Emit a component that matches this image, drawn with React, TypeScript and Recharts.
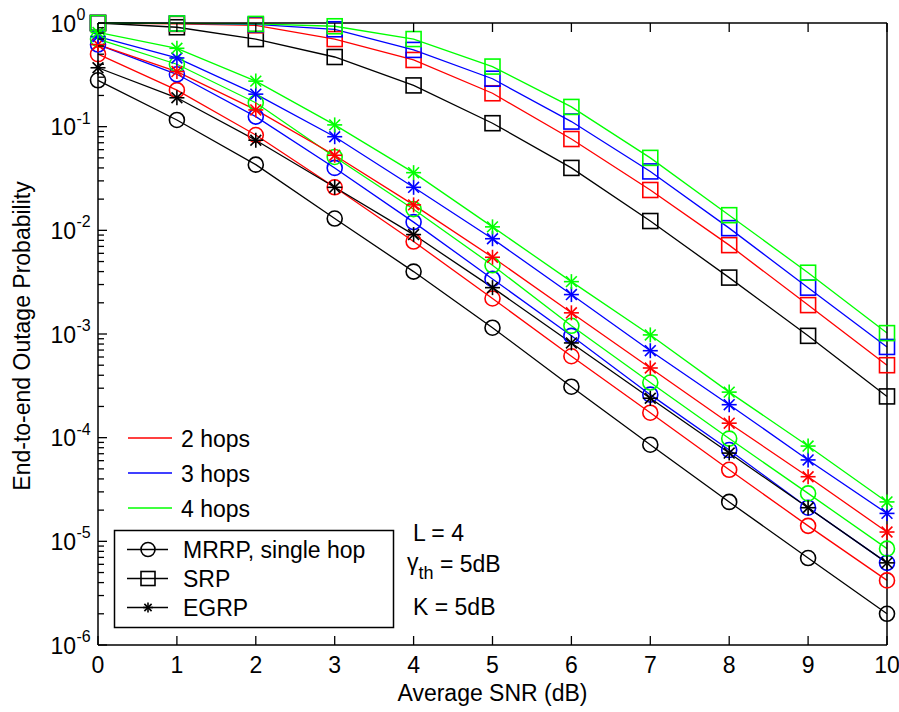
import React from 'react';
import { LineChart, Line, XAxis, YAxis } from 'recharts';

// ---------- data ----------
const snrDb = [0, 1, 2, 3, 4, 5, 6, 7, 8, 9, 10];

// MRRP (circles)
const mrrp1 = [0.28, 0.116, 0.043, 0.013, 0.004, 0.00115, 0.00031, 0.0000855, 0.000024, 0.0000069, 0.000002];
const mrrp2 = [0.5, 0.225, 0.083, 0.026, 0.0078, 0.0022, 0.00061, 0.000174, 0.000049, 0.0000141, 0.0000042];
const mrrp3 = [0.62, 0.32, 0.125, 0.04, 0.012, 0.0034, 0.00096, 0.00026, 0.000076, 0.0000211, 0.0000062];
const mrrp4 = [0.7, 0.4, 0.17, 0.051, 0.016, 0.0046, 0.0012, 0.00034, 0.000098, 0.000029, 0.0000085];

// SRP (squares)
const srp1 = [1.0, 0.91, 0.7, 0.47, 0.25, 0.108, 0.04, 0.0123, 0.0035, 0.00096, 0.00025];
const srp2 = [1.0, 0.98, 0.95, 0.7, 0.44, 0.21, 0.076, 0.0245, 0.0072, 0.0019, 0.0005];
const srp3 = [1.0, 0.99, 0.97, 0.87, 0.55, 0.29, 0.112, 0.037, 0.0105, 0.0028, 0.00075];
const srp4 = [1.0, 0.99, 0.98, 0.93, 0.7, 0.38, 0.155, 0.05, 0.014, 0.0039, 0.00102];

// EGRP (stars)
const egrp1 = [0.37, 0.19, 0.074, 0.026, 0.0091, 0.0028, 0.00082, 0.00024, 0.000071, 0.0000211, 0.0000062];
const egrp2 = [0.62, 0.34, 0.145, 0.053, 0.0176, 0.0055, 0.0016, 0.00047, 0.000138, 0.000042, 0.0000123];
const egrp3 = [0.74, 0.46, 0.206, 0.08, 0.026, 0.0083, 0.0024, 0.00069, 0.000208, 0.000061, 0.0000186];
const egrp4 = [0.81, 0.57, 0.275, 0.104, 0.036, 0.0108, 0.0032, 0.00098, 0.000275, 0.000083, 0.000024];

const xTicks = [0, 1, 2, 3, 4, 5, 6, 7, 8, 9, 10];
const decadeExponents = [-6, -5, -4, -3, -2, -1, 0];
const minorMultipliers = [2, 3, 4, 5, 6, 7, 8, 9];

const hopLegend = ['2 hops', '3 hops', '4 hops'];
const schemeLegend = ['MRRP, single hop', 'SRP', 'EGRP'];
const xLabel = 'Average SNR (dB)';
const yLabel = 'End-to-end Outage Probability';

// ---------- derived structures ----------
const COLORS = { k: '#000000', r: '#ff0000', b: '#0000ff', g: '#00ff00' };

type Shape = 'circle' | 'square' | 'star';
const seriesDefs: { key: string; values: number[]; color: string; shape: Shape }[] = [
  { key: 'srp1', values: srp1, color: COLORS.k, shape: 'square' },
  { key: 'srp2', values: srp2, color: COLORS.r, shape: 'square' },
  { key: 'srp3', values: srp3, color: COLORS.b, shape: 'square' },
  { key: 'srp4', values: srp4, color: COLORS.g, shape: 'square' },
  { key: 'mrrp2', values: mrrp2, color: COLORS.r, shape: 'circle' },
  { key: 'mrrp3', values: mrrp3, color: COLORS.b, shape: 'circle' },
  { key: 'mrrp4', values: mrrp4, color: COLORS.g, shape: 'circle' },
  { key: 'egrp2', values: egrp2, color: COLORS.r, shape: 'star' },
  { key: 'egrp3', values: egrp3, color: COLORS.b, shape: 'star' },
  { key: 'egrp4', values: egrp4, color: COLORS.g, shape: 'star' },
  { key: 'mrrp1', values: mrrp1, color: COLORS.k, shape: 'circle' },
  { key: 'egrp1', values: egrp1, color: COLORS.k, shape: 'star' },
];

const data = snrDb.map((x, i) => {
  const row: Record<string, number> = { x };
  seriesDefs.forEach((s) => {
    row[s.key] = s.values[i];
  });
  return row;
});

const yTicks: number[] = [];
decadeExponents.forEach((e) => {
  yTicks.push(Math.pow(10, e));
  if (e < 0) minorMultipliers.forEach((m) => yTicks.push(m * Math.pow(10, e)));
});

const FONT = '"Liberation Sans", Arial, sans-serif';
const FS = 23;

// ---------- marker shapes ----------
function MarkerShape({ shape, cx, cy, color, size = 7.5 }: { shape: Shape; cx: number; cy: number; color: string; size?: number }) {
  if (shape === 'circle') {
    return <circle cx={cx} cy={cy} r={size} fill="none" stroke={color} strokeWidth={1.6} />;
  }
  if (shape === 'square') {
    return <rect x={cx - size} y={cy - size} width={size * 2} height={size * 2} fill="none" stroke={color} strokeWidth={1.6} />;
  }
  const d = size * 0.72;
  return (
    <g stroke={color} strokeWidth={1.6}>
      <line x1={cx - size} y1={cy} x2={cx + size} y2={cy} />
      <line x1={cx} y1={cy - size} x2={cx} y2={cy + size} />
      <line x1={cx - d} y1={cy - d} x2={cx + d} y2={cy + d} />
      <line x1={cx - d} y1={cy + d} x2={cx + d} y2={cy - d} />
    </g>
  );
}

const makeDot = (shape: Shape, color: string, key: string) => (props: any) => {
  const { cx, cy, index } = props;
  if (cx == null || cy == null || isNaN(cx) || isNaN(cy)) return <g key={`${key}-${index}`} />;
  return (
    <g key={`${key}-${index}`}>
      <MarkerShape shape={shape} cx={cx} cy={cy} color={color} />
    </g>
  );
};

// ---------- ticks ----------
const isDecade = (v: number) => Math.abs(Math.log10(v) - Math.round(Math.log10(v))) < 1e-6;

const LeftTick = (props: any) => {
  const { x, y, payload } = props;
  const v = payload.value;
  const major = isDecade(v);
  const e = Math.round(Math.log10(v));
  return (
    <g>
      <line x1={x} x2={x + (major ? 9 : 6)} y1={y} y2={y} stroke="#000" strokeWidth={1.3} />
      {major && (
        <g fontFamily={FONT} fill="#000">
          <text x={x - 22} y={y + 8.5} textAnchor="end" fontSize={FS}>10</text>
          <text x={x - 21.5} y={y - 3} textAnchor="start" fontSize={16}>{String(e)}</text>
        </g>
      )}
    </g>
  );
};

const RightTick = (props: any) => {
  const { x, y, payload } = props;
  const major = isDecade(payload.value);
  return <line x1={x} x2={x - (major ? 9 : 6)} y1={y} y2={y} stroke="#000" strokeWidth={1.3} />;
};

const BottomTick = (props: any) => {
  const { x, y, payload } = props;
  return (
    <g>
      <line x1={x} x2={x} y1={y} y2={y - 9} stroke="#000" strokeWidth={1.3} />
      <text x={x} y={y + 28} textAnchor="middle" fontFamily={FONT} fontSize={FS} fill="#000">
        {String(payload.value)}
      </text>
    </g>
  );
};

const TopTick = (props: any) => {
  const { x, y } = props;
  return <line x1={x} x2={x} y1={y} y2={y + 9} stroke="#000" strokeWidth={1.3} />;
};

// ---------- overlay (legends, annotations, labels) ----------
const hopColors = [COLORS.r, COLORS.b, COLORS.g];
const schemeShapes: Shape[] = ['circle', 'square', 'star'];

function Overlay() {
  return (
    <svg width={899} height={712} style={{ position: 'absolute', left: 0, top: 0, pointerEvents: 'none' }}>
      <g fontFamily={FONT} fontSize={FS} fill="#000">
        {/* axis labels */}
        <text x={492.5} y={701} textAnchor="middle">{xLabel}</text>
        <text x={30} y={336} textAnchor="middle" transform="rotate(-90 30 336)">{yLabel}</text>

        {/* hop legend (no box) */}
        {hopLegend.map((label, i) => {
          const ly = 438 + i * 35;
          return (
            <g key={label}>
              <line x1={128} x2={172} y1={ly} y2={ly} stroke={hopColors[i]} strokeWidth={1.5} />
              <text x={181} y={ly + 9}>{label}</text>
            </g>
          );
        })}

        {/* scheme legend (boxed) */}
        <rect x={114.5} y={530.5} width={279} height={97} fill="#fff" stroke="#000" strokeWidth={1.5} />
        {schemeLegend.map((label, i) => {
          const ly = 549.5 + i * 29;
          return (
            <g key={label}>
              <line x1={127} x2={168} y1={ly} y2={ly} stroke="#000" strokeWidth={1.5} />
              <MarkerShape shape={schemeShapes[i]} cx={148} cy={ly} color="#000" size={schemeShapes[i] === 'star' ? 5 : 7} />
              <text x={183} y={ly + 8.5}>{label}</text>
            </g>
          );
        })}

        {/* parameters */}
        <text x={413} y={541}>L = 4</text>
        <text x={407} y={570}>
          γ<tspan dy={9} fontSize={18}>th</tspan>
          <tspan dy={-7}> = 5dB</tspan>
        </text>
        <text x={413} y={615}>K = 5dB</text>
      </g>
    </svg>
  );
}

export default function App() {
  return (
    <div style={{ position: 'absolute', left: 0, top: 0, width: 899, height: 712, background: '#fff' }}>
      <LineChart
        width={899}
        height={712}
        data={data}
        margin={{ top: 22, right: 11, bottom: 66, left: 97 }}
        style={{ background: '#fff' }}
      >
        <XAxis
          dataKey="x"
          type="number"
          domain={[0, 10]}
          ticks={xTicks}
          interval={0}
          height={1}
          tickSize={0}
          tickMargin={0}
          tickLine={false}
          axisLine={{ stroke: '#000', strokeWidth: 1.5 }}
          tick={(p: any) => <BottomTick {...p} />}
        />
        <XAxis
          xAxisId="top"
          orientation="top"
          dataKey="x"
          type="number"
          domain={[0, 10]}
          ticks={xTicks}
          interval={0}
          height={1}
          tickSize={0}
          tickMargin={0}
          tickLine={false}
          axisLine={{ stroke: '#000', strokeWidth: 1.5 }}
          tick={(p: any) => <TopTick {...p} />}
        />
        <YAxis
          type="number"
          scale="log"
          domain={[1e-6, 1]}
          ticks={yTicks}
          interval={0}
          width={1}
          tickSize={0}
          tickMargin={0}
          tickLine={false}
          axisLine={{ stroke: '#000', strokeWidth: 1.5 }}
          tick={(p: any) => <LeftTick {...p} />}
        />
        <YAxis
          yAxisId="right"
          orientation="right"
          type="number"
          scale="log"
          domain={[1e-6, 1]}
          ticks={yTicks}
          interval={0}
          width={1}
          tickSize={0}
          tickMargin={0}
          tickLine={false}
          axisLine={{ stroke: '#000', strokeWidth: 1.5 }}
          tick={(p: any) => <RightTick {...p} />}
        />
        {seriesDefs.map((s) => (
          <Line
            key={s.key}
            dataKey={s.key}
            stroke={s.color}
            strokeWidth={1.3}
            dot={makeDot(s.shape, s.color, s.key)}
            activeDot={false}
            isAnimationActive={false}
          />
        ))}
      </LineChart>
      <Overlay />
    </div>
  );
}
